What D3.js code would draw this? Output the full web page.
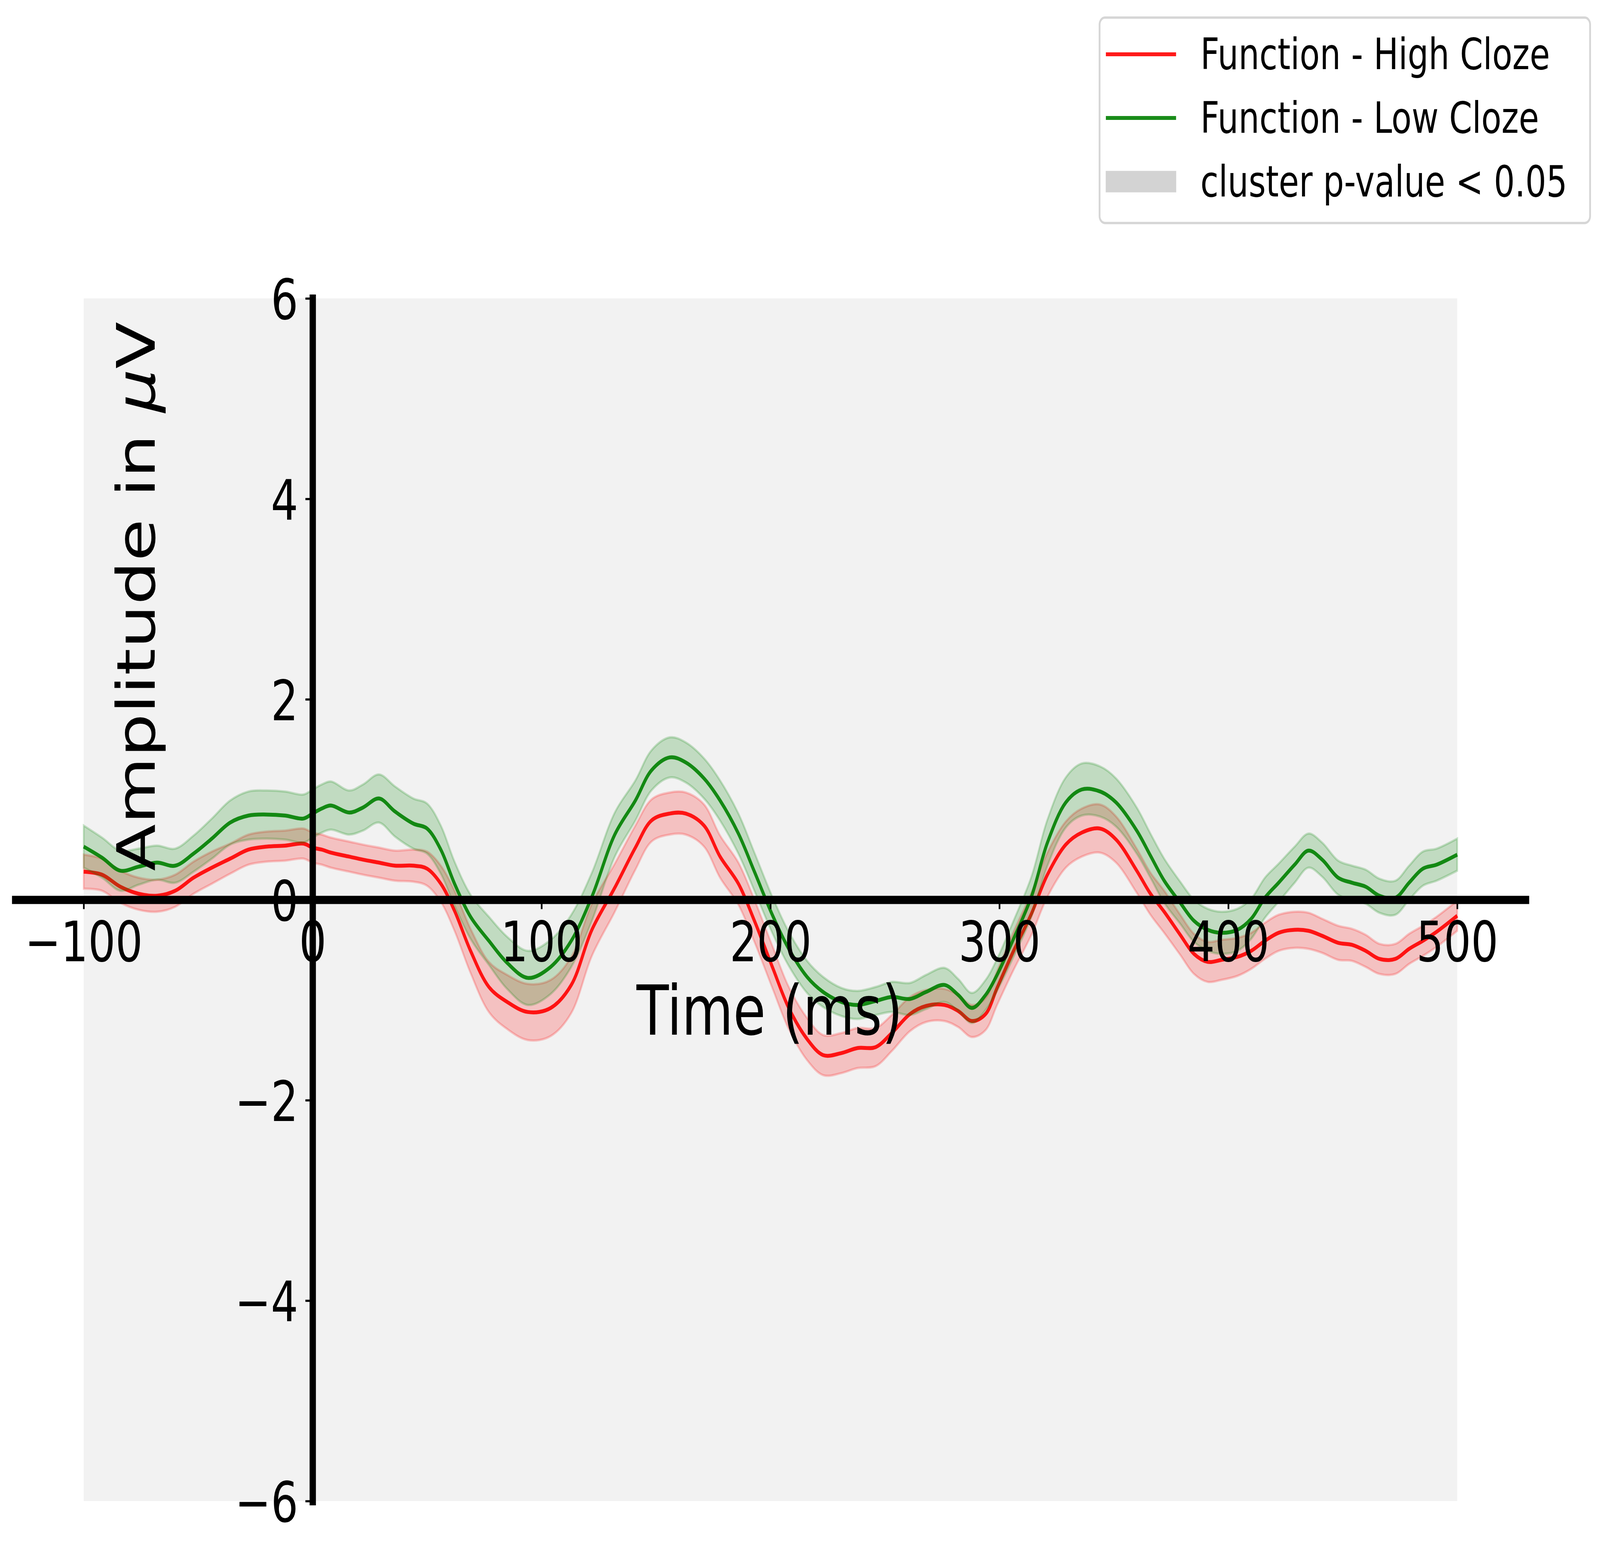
<!DOCTYPE html>
<html lang="en">
<head>
    <meta charset="UTF-8">
    <title>ERP Function Words - Cloze</title>
    <script src="https://cdnjs.cloudflare.com/ajax/libs/d3/7.8.5/d3.min.js"></script>
    <style>
        html, body { margin: 0; padding: 0; width: 100%; height: 100%; overflow: hidden; background: #ffffff; }
        #chart { width: 100vw; height: 100vh; }
        svg { display: block; font-family: "DejaVu Sans", sans-serif; }
    </style>
</head>
<body>
    <div id="chart"></div>
    <script>
        const times = [-100, -92, -84, -76, -68, -60, -52, -44, -36, -28, -20, -12, -4, 0,
            4, 8, 16, 22, 29, 36, 44, 50, 56, 62, 69, 77, 85, 94,
            104, 113, 122, 132, 141, 148, 156, 163, 171, 178, 186, 193, 201, 208,
            216, 223, 231, 238, 246, 253, 261, 268, 276, 282, 288, 294, 299, 306,
            314, 321, 329, 336, 344, 351, 360, 366, 372, 379, 385, 391, 397, 404,
            410, 416, 422, 429, 435, 441, 448, 454, 460, 466, 473, 479, 485, 491, 500];

        const highCloze = [0.28, 0.25, 0.13, 0.06, 0.04, 0.09, 0.22, 0.32, 0.41, 0.50, 0.53, 0.54, 0.56, 0.52,
            0.50, 0.47, 0.43, 0.40, 0.37, 0.34, 0.34, 0.31, 0.16, -0.11, -0.51, -0.87, -1.02, -1.12,
            -1.08, -0.85, -0.30, 0.12, 0.52, 0.79, 0.86, 0.86, 0.74, 0.43, 0.16, -0.21, -0.68, -1.08,
            -1.39, -1.55, -1.53, -1.48, -1.47, -1.33, -1.14, -1.06, -1.05, -1.11, -1.21, -1.14, -0.88, -0.52,
            -0.14, 0.25, 0.55, 0.67, 0.71, 0.60, 0.29, 0.06, -0.12, -0.35, -0.54, -0.62, -0.60, -0.57,
            -0.51, -0.41, -0.33, -0.30, -0.31, -0.36, -0.43, -0.45, -0.51, -0.59, -0.59, -0.49, -0.41, -0.32, -0.16];

        const highSem = [0.17, 0.16, 0.16, 0.16, 0.16, 0.16, 0.16, 0.16, 0.15, 0.15, 0.15, 0.15, 0.15, 0.15,
            0.15, 0.15, 0.15, 0.15, 0.15, 0.15, 0.16, 0.17, 0.18, 0.20, 0.22, 0.25, 0.27, 0.28,
            0.28, 0.28, 0.26, 0.24, 0.22, 0.21, 0.21, 0.21, 0.21, 0.21, 0.21, 0.21, 0.21, 0.21,
            0.21, 0.20, 0.20, 0.20, 0.19, 0.18, 0.17, 0.16, 0.16, 0.16, 0.16, 0.16, 0.17, 0.19,
            0.21, 0.22, 0.23, 0.24, 0.24, 0.23, 0.22, 0.21, 0.21, 0.20, 0.20, 0.20, 0.20, 0.19,
            0.18, 0.18, 0.18, 0.18, 0.18, 0.17, 0.17, 0.16, 0.16, 0.15, 0.15, 0.15, 0.15, 0.15, 0.15];

        const lowCloze = [0.53, 0.42, 0.29, 0.33, 0.37, 0.34, 0.46, 0.61, 0.77, 0.84, 0.85, 0.84, 0.81, 0.86,
            0.91, 0.94, 0.87, 0.92, 1.01, 0.88, 0.76, 0.71, 0.50, 0.16, -0.17, -0.41, -0.63, -0.78,
            -0.67, -0.41, 0.03, 0.65, 0.99, 1.29, 1.42, 1.37, 1.21, 0.99, 0.66, 0.28, -0.16, -0.49,
            -0.77, -0.92, -1.02, -1.05, -1.01, -0.97, -0.99, -0.92, -0.85, -0.95, -1.08, -0.95, -0.75, -0.40,
            0.03, 0.57, 0.97, 1.10, 1.08, 0.97, 0.69, 0.44, 0.19, -0.03, -0.21, -0.30, -0.33, -0.30,
            -0.19, 0.02, 0.17, 0.35, 0.49, 0.40, 0.22, 0.17, 0.13, 0.04, 0.02, 0.17, 0.31, 0.35, 0.45];

        const lowSem = [0.21, 0.20, 0.20, 0.18, 0.17, 0.17, 0.18, 0.20, 0.22, 0.24, 0.24, 0.24, 0.24, 0.24,
            0.24, 0.24, 0.22, 0.23, 0.24, 0.25, 0.25, 0.25, 0.24, 0.22, 0.22, 0.24, 0.26, 0.27,
            0.27, 0.26, 0.24, 0.22, 0.20, 0.20, 0.20, 0.20, 0.20, 0.20, 0.20, 0.19, 0.18, 0.17,
            0.16, 0.15, 0.14, 0.14, 0.14, 0.15, 0.16, 0.17, 0.17, 0.16, 0.15, 0.15, 0.16, 0.18,
            0.20, 0.23, 0.25, 0.26, 0.25, 0.24, 0.23, 0.22, 0.22, 0.21, 0.21, 0.21, 0.21, 0.21,
            0.20, 0.20, 0.19, 0.18, 0.17, 0.17, 0.17, 0.17, 0.17, 0.17, 0.17, 0.17, 0.17, 0.16, 0.16];

        const clusterSpans = [[-100, -96], [-96, -47], [-47, 2], [2, 217], [217, 266], [266, 315], [315, 364], [364, 500]];

        const xTicks = [-100, 0, 100, 200, 300, 400, 500];
        const yTicks = [-6, -4, -2, 0, 2, 4, 6];
        const legendLabels = ["Function - High Cloze", "Function - Low Cloze", "cluster p-value < 0.05"];

        const W = 5333, H = 3976;
        const fmt = d => d < 0 ? "\u2212" + Math.abs(d) : String(d);

        // drawn in a fixed 5333x3976 frame, stretched to whatever the window is
        const svg = d3.select("#chart")
            .append("svg")
            .attr("viewBox", `0 0 ${W} ${H}`)
            .attr("preserveAspectRatio", "none")
            .attr("width", "100%")
            .attr("height", "100%");

        const x = d3.scaleLinear().domain([-130, 530]).range([50, 5086]);
        const y = d3.scaleLinear().domain([-6, 6]).range([3843, 764]);

        // shaded cluster spans
        svg.append("g")
            .selectAll("rect")
            .data(clusterSpans)
            .enter().append("rect")
            .attr("x", d => x(d[0]))
            .attr("width", d => x(d[1]) - x(d[0]))
            .attr("y", y(6))
            .attr("height", y(-6) - y(6))
            .attr("fill", "lightgray")
            .attr("fill-opacity", 0.3);

        const curve = d3.curveCatmullRom.alpha(0.5);

        function drawSeries(means, sems, color) {
            const rows = times.map((t, i) => ({ t, m: means[i], s: sems[i] }));

            const band = d3.area()
                .curve(curve)
                .x(d => x(d.t))
                .y0(d => y(d.m - d.s))
                .y1(d => y(d.m + d.s));

            const line = d3.line()
                .curve(curve)
                .x(d => x(d.t))
                .y(d => y(d.m));

            svg.append("path")
                .datum(rows)
                .attr("d", band)
                .attr("fill", color)
                .attr("fill-opacity", 0.2)
                .attr("stroke", color)
                .attr("stroke-opacity", 0.2)
                .attr("stroke-width", 6);

            svg.append("path")
                .datum(rows)
                .attr("d", line)
                .attr("fill", "none")
                .attr("stroke", color)
                .attr("stroke-opacity", 0.9)
                .attr("stroke-width", 10);
        }

        drawSeries(highCloze, highSem, "red");
        drawSeries(lowCloze, lowSem, "green");

        const xAxis = svg.append("g")
            .attr("transform", `translate(0,${y(0)})`)
            .call(d3.axisBottom(x).tickValues(xTicks).tickFormat(fmt)
                .tickSizeInner(24).tickSizeOuter(0).tickPadding(32));

        const yAxis = svg.append("g")
            .attr("transform", `translate(${x(0)},0)`)
            .call(d3.axisLeft(y).tickValues(yTicks).tickFormat(fmt)
                .tickSizeInner(24).tickSizeOuter(0).tickPadding(24));

        [xAxis, yAxis].forEach(g => {
            g.attr("font-family", "DejaVu Sans").attr("font-size", 143);
            g.select(".domain")
                .attr("stroke", "#000")
                .attr("stroke-width", 21)
                .attr("stroke-linecap", "square");
            g.selectAll(".tick line").attr("stroke", "#000").attr("stroke-width", 5.5);
            g.selectAll(".tick text").attr("fill", "#000");
        });
        yAxis.selectAll(".tick text").attr("dy", "0.37em");

        svg.append("text")
            .attr("x", 2565)
            .attr("y", 2649)
            .attr("text-anchor", "middle")
            .attr("font-size", 176)
            .text("Time (ms)");

        const yLabel = svg.append("text")
            .attr("transform", "translate(516,1527) rotate(-90)")
            .attr("text-anchor", "middle")
            .attr("font-size", 176);
        yLabel.append("tspan").text("Amplitude in ");
        yLabel.append("tspan").attr("font-style", "italic").text("\u03bc");
        yLabel.append("tspan").text("V");

        // legend
        const legend = svg.append("g");
        legend.append("rect")
            .attr("x", 3665)
            .attr("y", 45)
            .attr("width", 1635)
            .attr("height", 526)
            .attr("rx", 18)
            .attr("fill", "#ffffff")
            .attr("stroke", "#d6d6d6")
            .attr("stroke-width", 6);

        const handleColors = ["red", "green", "lightgray"];
        const handleWidths = [10, 10, 55];
        const item = legend.selectAll(".item")
            .data(legendLabels)
            .enter().append("g")
            .attr("class", "item")
            .attr("transform", (d, i) => `translate(0,${139 + i * 163})`);

        item.append("line")
            .attr("x1", (d, i) => i === 2 ? 3686 + 27 : 3686)
            .attr("x2", (d, i) => i === 2 ? 3920 - 27 : 3920)
            .attr("stroke", (d, i) => handleColors[i])
            .attr("stroke-opacity", (d, i) => i === 2 ? 1 : 0.9)
            .attr("stroke-width", (d, i) => handleWidths[i])
            .attr("stroke-linecap", (d, i) => i === 2 ? "square" : "butt");

        item.append("text")
            .attr("x", 4001)
            .attr("y", 38)
            .attr("font-size", 110)
            .text(d => d);
    </script>
</body>
</html>
